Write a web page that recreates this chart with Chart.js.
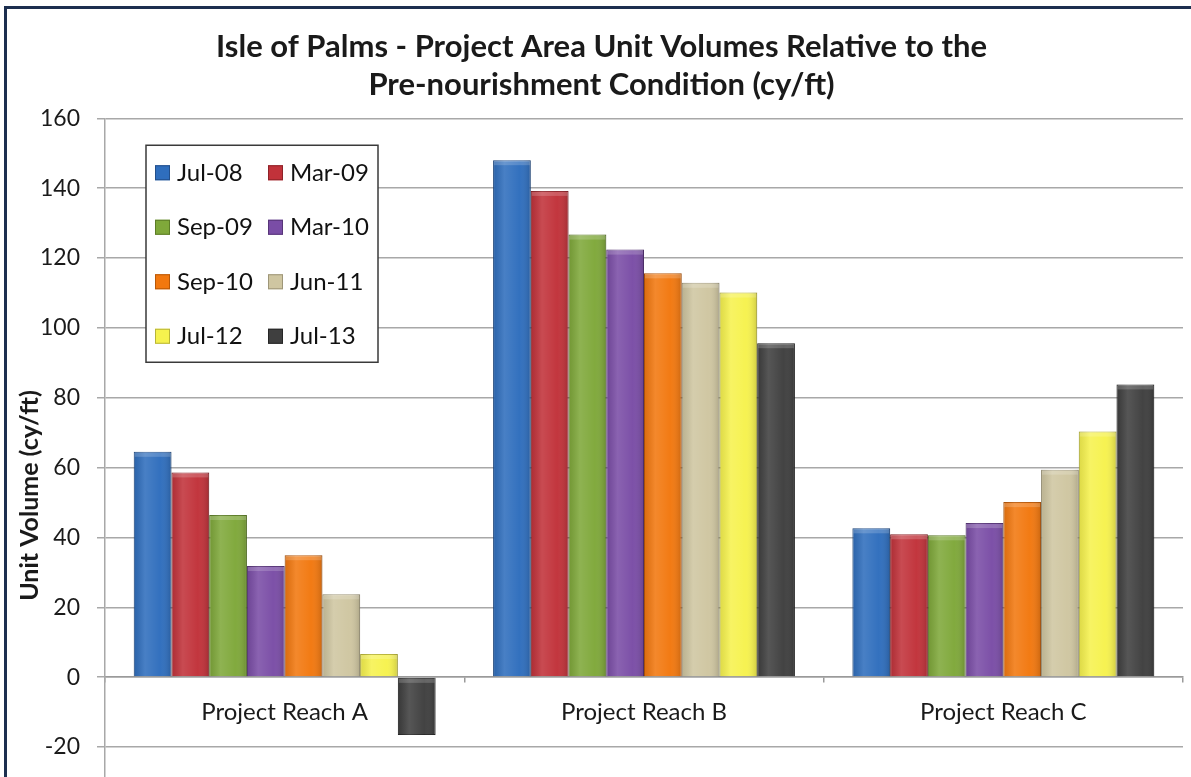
<!DOCTYPE html>
<html>
<head>
<meta charset="utf-8">
<script src="https://cdn.jsdelivr.net/npm/chart.js@4.4.1/dist/chart.umd.min.js"></script>
<style>
  html, body { margin: 0; padding: 0; background: #ffffff; overflow: hidden; }
  #wrap { position: relative; width: 1191px; height: 777px; }
</style>
</head>
<body>
<div id="wrap"><canvas id="volChart" width="1191" height="777"></canvas></div>
<script>
// Categories and series (cy/ft)
const reaches = ['Project Reach A', 'Project Reach B', 'Project Reach C'];
const surveyDates = ['Jul-08', 'Mar-09', 'Sep-09', 'Mar-10', 'Sep-10', 'Jun-11', 'Jul-12', 'Jul-13'];

const jul08 = [64.5, 148.0, 42.6];
const mar09 = [58.6, 139.2, 40.9];
const sep09 = [46.4, 126.7, 40.6];
const mar10 = [31.8, 122.4, 44.1];
const sep10 = [34.9, 115.6, 50.1];
const jun11 = [23.7, 112.9, 59.4];
const jul12 = [6.6, 110.1, 70.3];
const jul13 = [-16.6, 95.6, 83.8];

const yTicks = [-20, 0, 20, 40, 60, 80, 100, 120, 140, 160];
const yTitle = 'Unit Volume (cy/ft)';

const seriesValues = [jul08, mar09, sep09, mar10, sep10, jun11, jul12, jul13];
const fillColors = ['#2f6ebd', '#c1323a', '#7fa83a', '#7a4da6', '#f2780f', '#cfc6a1', '#f6f24e', '#3f3f3f'];
const edgeColors = ['#234f8a', '#8e2228', '#5c7c27', '#573578', '#b85808', '#9e9678', '#b8b438', '#262626'];

const FONT = 'Lato, Calibri, "Open Sans", sans-serif';

// Soft glossy shading over every bar, drawn from the bar elements
const barShading = {
    id: 'barShading',
    afterDatasetsDraw(chart) {
        const ctx = chart.ctx;
        ctx.save();
        chart.data.datasets.forEach((ds, i) => {
            const meta = chart.getDatasetMeta(i);
            meta.data.forEach(bar => {
                const left = bar.x - bar.width / 2;
                const top = Math.min(bar.y, bar.base);
                const h = Math.abs(bar.base - bar.y);
                const g = ctx.createLinearGradient(left, 0, left + bar.width, 0);
                g.addColorStop(0, 'rgba(0,0,0,0.10)');
                g.addColorStop(0.3, 'rgba(255,255,255,0.12)');
                g.addColorStop(0.7, 'rgba(255,255,255,0.02)');
                g.addColorStop(1, 'rgba(0,0,0,0.16)');
                ctx.fillStyle = g;
                ctx.fillRect(left, top, bar.width, h);
                // small bevel at the top
                ctx.fillStyle = 'rgba(255,255,255,0.18)';
                ctx.fillRect(left + 1, top + 1, bar.width - 2, Math.min(4, h));
            });
        });
        ctx.restore();
    }
};

// Boxed legend inside the plot, two columns
const boxLegend = {
    id: 'boxLegend',
    afterDraw(chart) {
        const ctx = chart.ctx;
        const area = chart.chartArea;
        const x0 = area.left + 41, y0 = area.top + 27;
        const w = 232, h = 217;
        ctx.save();
        ctx.fillStyle = '#ffffff';
        ctx.fillRect(x0, y0, w, h);
        ctx.strokeStyle = '#3a3a3a';
        ctx.lineWidth = 1.5;
        ctx.strokeRect(x0, y0, w, h);
        ctx.font = '24px ' + FONT;
        ctx.textBaseline = 'middle';
        chart.data.datasets.forEach((ds, i) => {
            const col = i % 2, row = Math.floor(i / 2);
            const mx = x0 + 9 + col * 113;
            const my = y0 + 27 + row * 54.5;
            ctx.fillStyle = ds.backgroundColor;
            ctx.fillRect(mx, my - 7, 15, 15);
            ctx.strokeStyle = ds.borderColor;
            ctx.lineWidth = 1;
            ctx.strokeRect(mx + 0.5, my - 6.5, 14, 14);
            ctx.fillStyle = '#111111';
            ctx.fillText(ds.label, mx + 22, my + 1);
        });
        ctx.restore();
    }
};

// Rotated y-axis title, sitting a bit low like the original
const yAxisTitle = {
    id: 'yAxisTitle',
    afterDraw(chart) {
        const ctx = chart.ctx;
        const ys = chart.scales.y;
        ctx.save();
        ctx.translate(30, ys.getPixelForValue(52));
        ctx.rotate(-Math.PI / 2);
        ctx.font = 'bold 25px ' + FONT;
        ctx.fillStyle = '#1a1a1a';
        ctx.textAlign = 'center';
        ctx.textBaseline = 'middle';
        ctx.fillText(yTitle, 0, 0);
        ctx.restore();
    }
};

// Dark frame lines at the top and left edges of the picture
const frame = {
    id: 'frame',
    afterDraw(chart) {
        const ctx = chart.ctx;
        ctx.save();
        ctx.strokeStyle = '#1d2f4f';
        ctx.lineWidth = 3;
        ctx.beginPath();
        ctx.moveTo(5.5, chart.height);
        ctx.lineTo(5.5, 7.5);
        ctx.lineTo(chart.width, 7.5);
        ctx.stroke();
        ctx.restore();
    }
};

const datasets = surveyDates.map((label, i) => ({
    label: label,
    data: seriesValues[i],
    backgroundColor: fillColors[i],
    borderColor: edgeColors[i],
    borderWidth: 1,
    categoryPercentage: 0.84,
    barPercentage: 1.0
}));

new Chart(document.getElementById('volChart'), {
    type: 'bar',
    data: { labels: reaches, datasets: datasets },
    options: {
        responsive: false,
        animation: false,
        layout: { padding: { left: 20, right: 8, top: 0, bottom: 0 } },
        plugins: {
            legend: { display: false },
            tooltip: { enabled: false },
            title: {
                display: true,
                text: ['Isle of Palms - Project Area Unit Volumes Relative to the',
                       'Pre-nourishment Condition (cy/ft)'],
                color: '#1a1a1a',
                font: { family: FONT, size: 31, weight: 'bold', lineHeight: 1.23 },
                padding: { top: 28, bottom: 14 }
            }
        },
        scales: {
            x: {
                position: { y: 0 },
                offset: true,
                afterFit: (scale) => { scale.height = 0; },
                grid: {
                    offset: true,
                    drawOnChartArea: false,
                    drawTicks: true,
                    tickLength: 5,
                    color: '#9a9a9a',
                    lineWidth: 1.5
                },
                border: { color: '#9a9a9a', width: 1.5 },
                ticks: {
                    color: '#1a1a1a',
                    font: { family: FONT, size: 24 },
                    padding: 16
                }
            },
            y: {
                min: -28.6,
                max: 160,
                afterBuildTicks: (scale) => {
                    scale.ticks = yTicks.map(v => ({ value: v }));
                },
                // fixed axis width, and let the plot run to the bottom edge
                afterFit: (scale) => {
                    scale.width = 85;
                    scale.paddingBottom = 0;
                },
                grid: {
                    color: '#a8a8a8',
                    lineWidth: 1.5,
                    drawTicks: true,
                    tickLength: 8
                },
                border: { color: '#a8a8a8', width: 1.5 },
                ticks: {
                    color: '#1a1a1a',
                    font: { family: FONT, size: 23 },
                    padding: 17
                }
            }
        }
    },
    plugins: [barShading, boxLegend, yAxisTitle, frame]
});
</script>
</body>
</html>
